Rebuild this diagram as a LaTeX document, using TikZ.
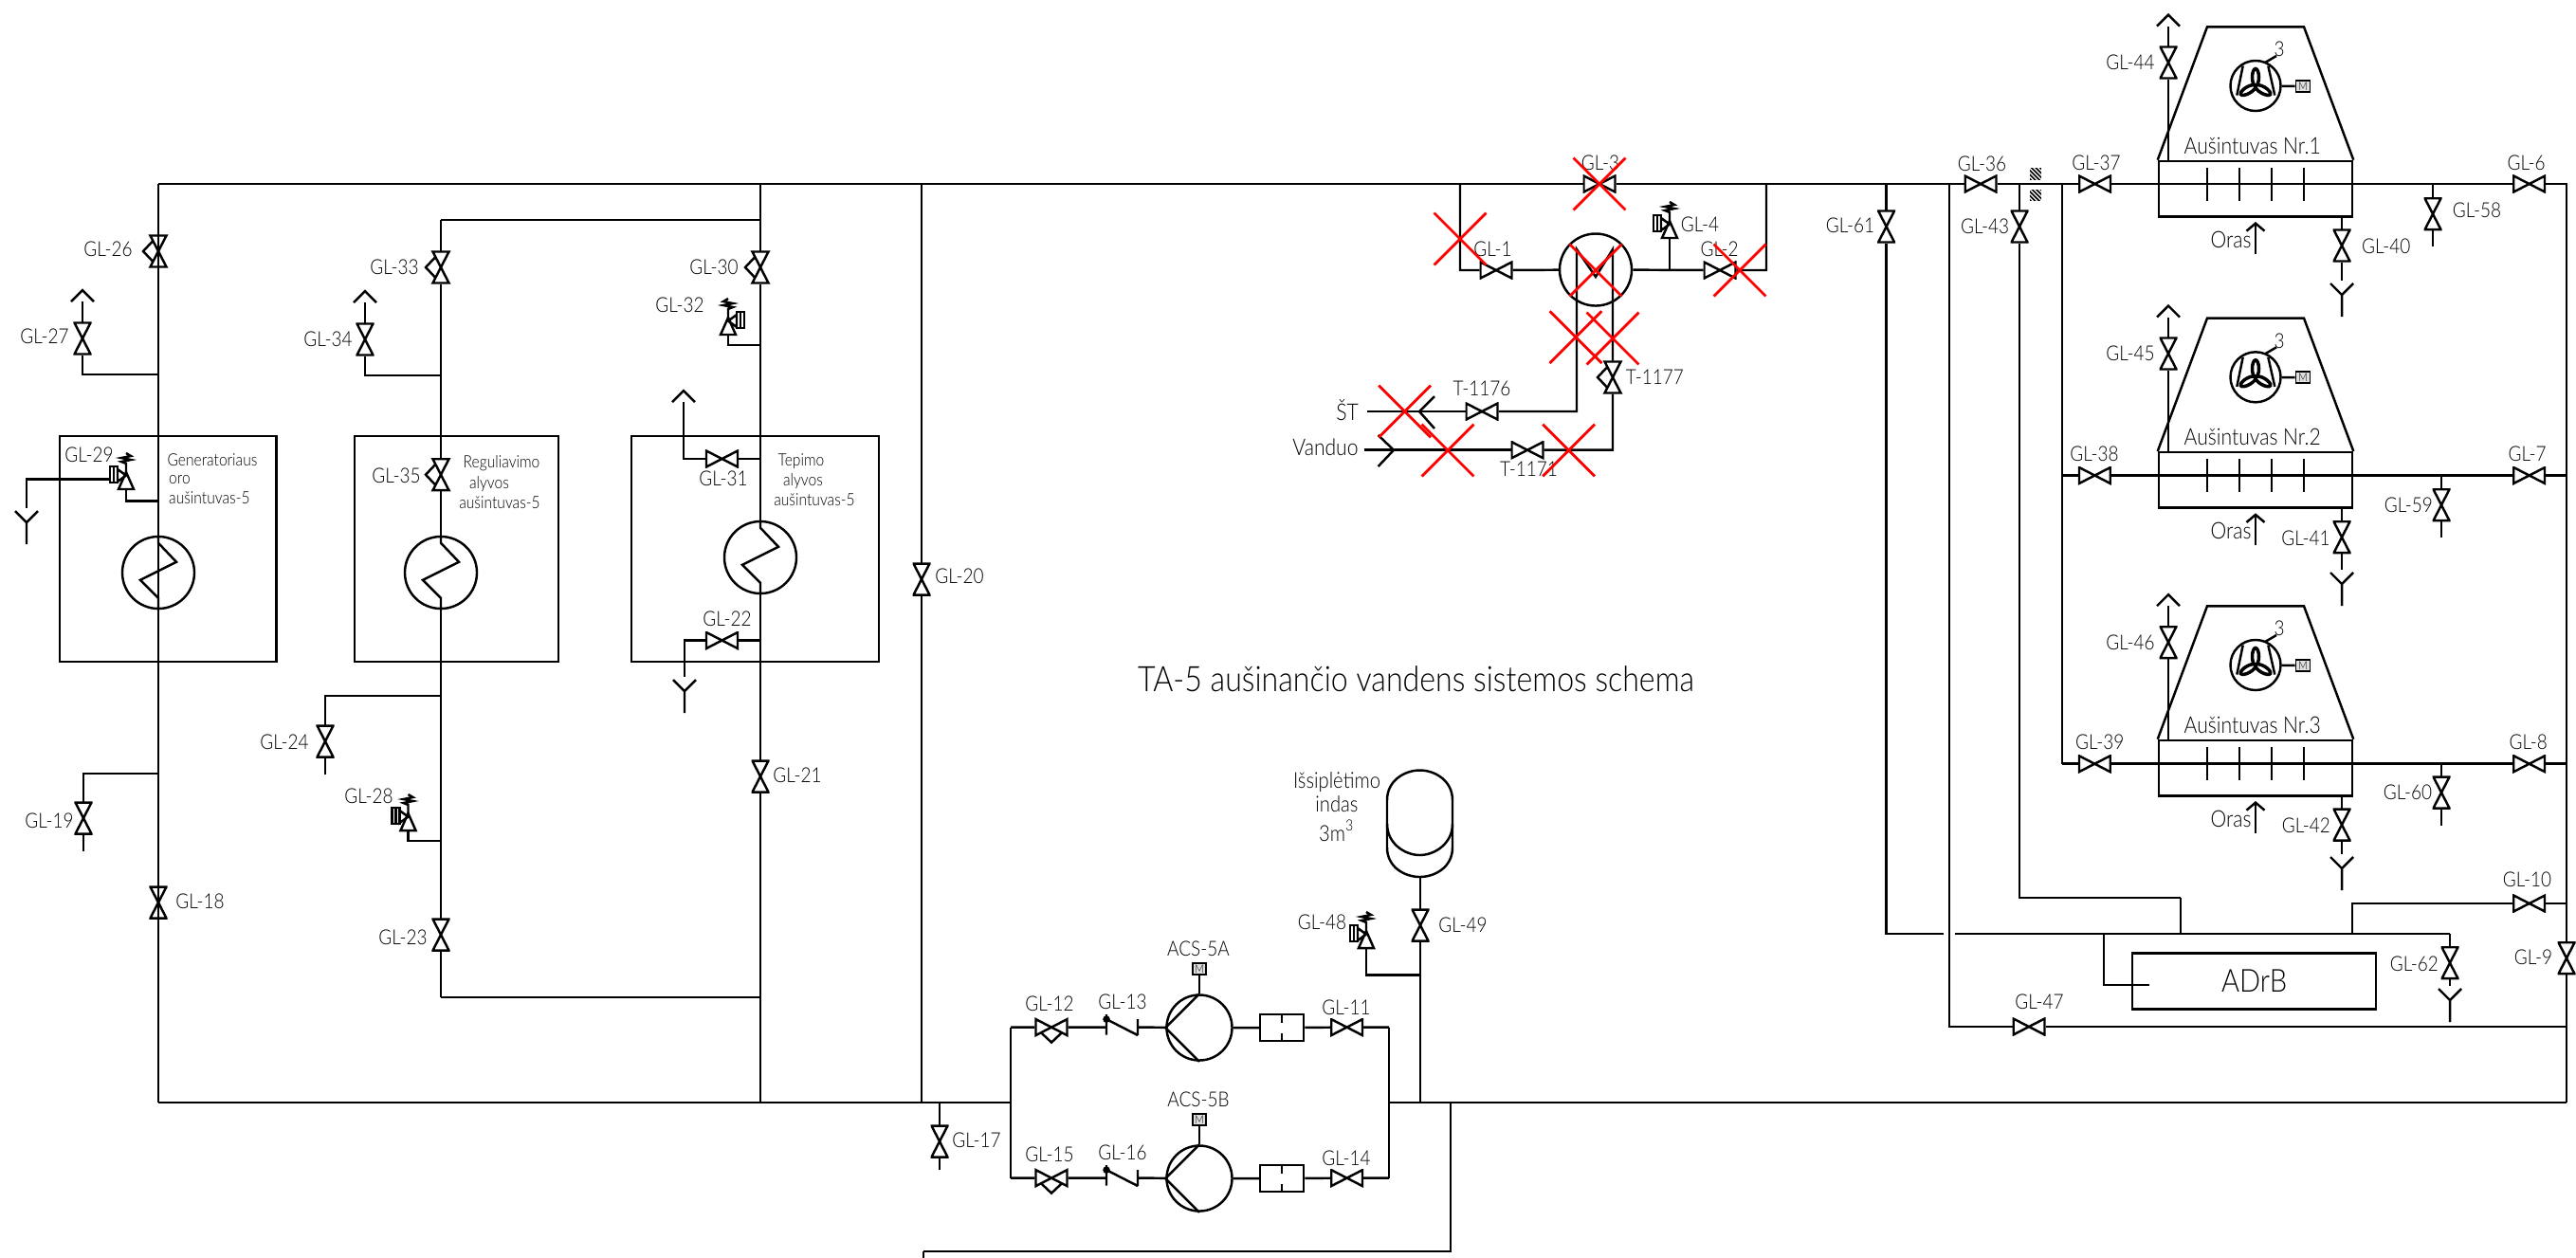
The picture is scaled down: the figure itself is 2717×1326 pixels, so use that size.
\documentclass[tikz,border=0pt]{standalone}
\usepackage{fontspec}
\setmainfont{Lato}[UprightFont=* Light, FakeStretch=.87]
\usetikzlibrary{arrows.meta, shapes.misc}
\tikzset{
  vvalve/.style={inner sep=0pt, outer sep=0pt, minimum width=.19cm, minimum height=.35cm,
    path picture={\draw (path picture bounding box.center) ++(-8.5,-16.5) -- ++(17,0) -- ++(-17,33) -- ++(17,0) -- cycle;}},
  vhand/.style={inner sep=0pt, outer sep=0pt, minimum width=.36cm, minimum height=.35cm,
    path picture={\draw (path picture bounding box.center) ++(-8.5,-16.5) -- ++(17,0) -- ++(-17,33) -- ++(17,0) -- cycle;
      \draw (path picture bounding box.center) ++(-5.6,-11) -- ++(-10.4,11) -- ++(10.4,11);}},
  hvalve/.style={inner sep=0pt, outer sep=0pt, minimum width=.35cm, minimum height=.19cm,
    path picture={\draw (path picture bounding box.center) ++(-16.5,-8.5) -- ++(0,17) -- ++(33,-17) -- ++(0,17) -- cycle;}},
  hhand/.style={inner sep=0pt, outer sep=0pt, minimum width=.35cm, minimum height=.36cm,
    path picture={\draw (path picture bounding box.center) ++(-16.5,-8.5) -- ++(0,17) -- ++(33,-17) -- ++(0,17) -- cycle;
      \draw (path picture bounding box.center) ++(-11,5.6) -- ++(11,10.4) -- ++(11,-10.4);}},
  tag/.style={inner sep=0pt, font=\fontsize{6.2}{6.2}\selectfont},
  widetag/.style={inner sep=0pt, font=\fontsize{6.9}{6.9}\selectfont},
  note/.style={inner sep=0pt, font=\fontsize{5.1}{5.1}\selectfont},
  unit/.style={draw, inner sep=0pt},
  hx/.style={draw, circle, inner sep=0pt, minimum size=.76cm},
  pump/.style={draw, circle, inner sep=0pt, minimum size=.69cm},
  motor/.style={draw, fill=gray!25, line width=.5pt, inner sep=0pt, minimum width=.15cm, minimum height=.12cm, font=\fontsize{3.4}{3.4}\selectfont},
  redx/.style={cross out, draw=red, line width=.8pt, inner sep=0pt, minimum size=.52cm},
  hatchbox/.style={fill=black, inner sep=0pt, minimum size=.125cm,
    path picture={\foreach \s in {-9,-4.5,0,4.5,9} \draw[white, line width=.35pt] (path picture bounding box.center) ++(\s-7,-7) -- ++(14,14);}},
  vent/.pic={\draw (-12,12) -- (0,0) -- (12,12);},
  drain/.pic={\draw (-12,0) -- (0,12) -- (12,0) (0,12) -- (0,35);},
  relief/.pic={
    \draw (-8,0) -- (8,0) -- (0,-18) -- cycle;
    \draw (0,-18) -- (0,-27) -- (-5,-29) -- (5,-31) -- (-5,-33) -- (5,-35) -- (0,-38);
    \draw (-9,-21) -- (0,-14.5) -- (-9,-8) -- cycle;
    \draw (-17,-24) rectangle (-9,-7) (-13,-24) -- (-13,-7);},
  check/.pic={
    \draw (0,-13.5) -- (0,8) (0,-8.5) -- (33,8.4) (33,-8.4) -- (33,8.4);
    \fill (0,-8.5) circle[radius=3.8];},
  blades/.pic={
    \draw (-13.3,-21) -- (-19.7,10) (13.3,-21) -- (20.3,10);
    \foreach \a in {0,120,240} \draw[line width=1pt, rotate=\a] (0,-9) ellipse[x radius=3.5, y radius=9];}
}
\begin{document}
\begin{tikzpicture}[x=0.01cm, y=-0.01cm, line width=.7pt]
  \useasboundingbox (0,0) rectangle (2717,1326);

  \foreach \n/\x/\y/\lx/\ly in {27/87/357/47/355, 34/385/358/346/358, 18/167/952/211/951, 19/88/863/52/866,
      24/343/782/300/783, 23/465/986/425/989, 21/802/819/841/818, 20/972/611/1012/608, 17/991/1204/1030/1203,
      49/1498/976/1543/975.5, 61/1989.6/239/1951.5/238, 43/2130/239/2093.6/239, 44/2287/66/2247/66,
      45/2287/373/2247/373, 46/2287/677.5/2247/677.5, 40/2470/259/2516.7/260, 41/2470/566.7/2432/567.7,
      42/2470/870/2432.4/870.7, 58/2566/225.7/2612.5/222, 59/2575/532.7/2540.4/533, 60/2575/836/2539.5/835.7,
      62/2584/1015.7/2546.4/1016.7, 9/2707/1010.7/2672/1010}
    {\node[vvalve] (gl\n) at (\x,\y) {};
     \node[tag] (t\n) at (\lx,\ly) {GL-\n};}
  \foreach \n/\x/\y/\lx/\ly in {26/167/265/114/263, 33/465/282/416/282, 30/802/282/753/282, 35/465/500.7/418/502}
    {\node[vhand] (gl\n) at (\x,\y) {};
     \node[tag] (t\n) at (\lx,\ly) {GL-\n};}
  \foreach \n/\x/\y/\lx/\ly in {31/761.5/484/763/505, 22/761.5/675.5/767/653, 3/1687/194/1688/172, 1/1578/285/1574.5/263,
      2/1814/285/1813.6/263, 36/2089/194/2090.5/172.7, 37/2209.5/194/2211/172, 38/2209.4/501.5/2209/479,
      39/2209.3/805.7/2214.7/782.7, 6/2667.7/194/2664.6/172, 7/2667.7/501.5/2665.6/479, 8/2667.7/805.7/2666.7/782.7,
      10/2667.7/953/2665.5/927.7, 47/2140/1083/2151/1057}
    {\node[hvalve] (gl\n) at (\x,\y) {};
     \node[tag] (t\n) at (\lx,\ly) {GL-\n};}
  \node[vhand] (t1177) at (1701,398) {};
  \node[tag] (l1177) at (1745.4,398) {T-1177};
  \node[hvalve] (t1176) at (1563,434) {};
  \node[tag] (l1176) at (1563,410) {T-1176};
  \node[hvalve] (t1171) at (1611,474.7) {};
  \node[tag] (l1171) at (1612.5,495) {T-1171};
  \foreach \n/\x/\y in {29/94/480, 32/717/322, 28/389/840, 48/1394.5/973, 4/1793/236.7}
    \node[tag] (t\n) at (\x,\y) {GL-\n};

  \foreach \n/\x/\y in {ta/167/194, tb/465/232, tc/802/194, td/802/232, te/972/194, tf/1540/194, tg/1863/194,
      th/1989.6/194, ti/2056/194, tj/2130/194, tk/2175/194, tr/2707/194,
      bl/167/1163, bc/802/1163, be/972/1163, bg/991/1163, bp/1066/1163, bq/1465/1163, bt/1498/1163, bu/1530/1163, br/2707/1163,
      j27/167/395, j34/465/396, j32/802/364, j29/167/528.5, j24/465/734, j19/167/816, j28/465/887, j23/465/1052, j21/802/1052,
      j31/802/484, j22/802/675.5, j4/1761/285, j48/1498/1028.5, j47/2707/1083, j10/2707/953,
      e17/991/1234, e19/88/898, e24/343/817, e58/2566/260, e59/2575/567, e60/2575/871,
      s58/2566/194, s59/2575/501.5, s60/2575/805.7, m2/2175/501.5, m3/2175/805.7, n7/2707/501.5, n8/2707/805.7,
      w40/2470/228.3, w41/2470/535.8, w42/2470/839.8, w44/2287/170, w45/2287/477.3, w46/2287/781,
      g1/2050/985, g2/2061.5/985, g3/2584/985, k1/2300/947, k2/2300/985, k3/2481/985, k4/2219/985, k5/2266.5/1039,
      b3/974/1320, b4/974/1330, c1/1663/263, c2/1701/263, c3/1683/292, st/1442/434, vz/1439/474.7,
      a29/116/505.5, tankb/1498/925}
    \coordinate (\n) at (\x,\y);

  \foreach \n/\x/\y in {v27/87/306, v34/385/307, v31/721/412, v44/2287/15.7, v45/2287/322.5, v46/2287/627.2}
    {\pic at (\x,\y) {vent};
     \coordinate (\n) at (\x,\y+12);}
  \foreach \n/\x/\y in {d29/28/539, d22/722/717, d40/2470/299, d41/2470/604, d42/2470/904, d62/2584/1043}
    {\pic at (\x,\y) {drain};
     \coordinate (\n) at (\x,\y-3);}
  \foreach \n/\x/\y/\s in {r29/133/516/1, r32/768/353/-1, r28/430.5/876/1, r48/1441/1000/1, r4/1761/251/1}
    {\pic[xscale=\s] at (\x,\y) {relief};
     \coordinate (\n) at (\x,\y);}

  \node[unit, minimum width=2.285cm, minimum height=2.38cm] (boxa) at (177.2,579) {};
  \node[unit, minimum width=2.15cm, minimum height=2.38cm] (boxb) at (481.5,579) {};
  \node[unit, minimum width=2.61cm, minimum height=2.38cm] (boxc) at (796.5,579) {};
  \node[note] (na1) at (224,485) {Generatoriaus};
  \node[note, right] (na2) at (177,506) {oro};
  \node[note, right] (na3) at (177,525) {aušintuvas-5};
  \node[note] (nb1) at (529,489) {Reguliavimo};
  \node[note] (nb2) at (516,511) {alyvos};
  \node[note] (nb3) at (527,530) {aušintuvas-5};
  \node[note] (nc1) at (845,487) {Tepimo};
  \node[note] (nc2) at (847,508) {alyvos};
  \node[note] (nc3) at (859,527) {aušintuvas-5};
  \node[hx] (hxa) at (167,604) {};
  \node[hx] (hxb) at (465,604) {};
  \node[hx] (hxc) at (802,588) {};
  \node[hx] (hxd) at (1683,284.5) {};
  \foreach \h in {hxa,hxb,hxc}
    \draw (\h.north) -- ++(0,8) -- ++(19,20) -- ++(-38,19) -- ++(19,19) -- (\h.south);

  \draw (bl) -- (ta) (ta) -- (gl3) (gl3) -- (gl36) (gl36) -- (gl37);
  \draw (ta) -- (gl26) (gl26) -- (hxa) (hxa) -- (gl18) (gl18) -- (bl);
  \draw (bl) -- (bp) (bq) -- (br);
  \draw (tc) -- (gl30) (gl30) -- (hxc) (hxc) -- (gl21) (gl21) -- (bc);
  \draw (td) -- (tb) (tb) -- (gl33) (gl33) -- (gl35) (gl35) -- (hxb) (hxb) -- (gl23) (gl23) -- (j23) (j23) -- (j21);
  \draw (te) -- (gl20) (gl20) -- (be);
  \draw (bg) -- (gl17) (gl17) -- (e17);
  \draw (gl27) |- (j27) (gl27) -- (v27);
  \draw (gl34) |- (j34) (gl34) -- (v34);
  \draw (gl19) |- (j19) (gl19) -- (e19);
  \draw (gl24) |- (j24) (gl24) -- (e24);
  \draw (gl31) -- (j31) (gl31) -| (v31);
  \draw (gl22) -- (j22) (gl22) -| (d22);
  \draw (r32) |- (j32) (r29) |- (j29) (r28) |- (j28);
  \draw (a29) -| (d29);

  \draw (tf) |- (gl1) (gl1) -- (hxd) (hxd) -- (gl2) (gl2) -| (tg);
  \draw (j4) -- (r4);
  \draw (t1176) -| (c1) -- (c3) -- (c2) -- (t1177) (t1177) |- (t1171);
  \draw (t1176) -- (st) (t1171) -- (vz);
  \draw (1513,418) -- (1497,434) -- (1513,452);
  \draw (1453.6,459) -- (1470,474.7) -- (1453.6,492);
  \node[widetag] (lst) at (1421,432.7) {ŠT};
  \node[widetag] (lvz) at (1398,472) {Vanduo};

  \draw (th) -- (gl61) (gl61) |- (g1) (g2) -- (g3) (g3) -- (gl62) (gl62) -- (d62);
  \draw (ti) |- (gl47) (gl47) -- (j47);
  \draw (tj) -- (gl43) (gl43) |- (k1) (k1) -- (k2);
  \draw (tk) -- (m3) (m2) -- (gl38) (m3) -- (gl39);
  \draw (gl37) -- (gl6) (gl38) -- (gl7) (gl39) -- (gl8);
  \draw (gl6) -| (gl9) (gl9) -- (br) (gl7) -- (n7) (gl8) -- (n8);
  \draw (s58) -- (gl58) (gl58) -- (e58) (s59) -- (gl59) (gl59) -- (e59) (s60) -- (gl60) (gl60) -- (e60);
  \draw (w40) -- (gl40) (gl40) -- (d40) (w41) -- (gl41) (gl41) -- (d41) (w42) -- (gl42) (gl42) -- (d42);
  \draw (w44) -- (gl44) (gl44) -- (v44) (w45) -- (gl45) (gl45) -- (v45) (w46) -- (gl46) (gl46) -- (v46);
  \draw (gl10) -- (j10) (gl10) -| (k3);
  \draw (k4) |- (k5);
  \node[unit, minimum width=2.57cm, minimum height=.59cm, font=\fontsize{9.5}{9.5}\selectfont] (adrb) at (2377.6,1034.8) {ADrB};
  \node[hatchbox] (ha) at (2147,183.6) {};
  \node[hatchbox] (hb) at (2147,205.8) {};

  \foreach \k/\dy in {1/0, 2/307.3, 3/611} {
    \begin{scope}[shift={(0,\dy)}]
      \node[unit, minimum width=2.04cm, minimum height=.583cm] (cl\k) at (2379,199.1) {};
      \draw (cl\k.north west) -- (2328,28.3) -- (2430,28.3) -- (cl\k.north east);
      \foreach \x in {2328,2362,2396,2430}
        \draw (\x,176.7) -- (\x,211.7);
      \node[draw, circle, inner sep=0pt, minimum size=.53cm] (fn\k) at (2379,90.5) {};
      \pic at (fn\k) {blades};
      \node[motor] (fm\k) at (2429,91) {M};
      \draw (fn\k) -- (fm\k);
      \node[tag] (fl\k) at (2404,52) {3};
      \draw (fn\k) ++(10,-24.5) -- ++(12,-7);
      \node[widetag] (cn\k) at (2375.7,154) {Aušintuvas Nr.\k};
      \node[widetag] (or\k) at (2353,253) {Oras};
      \coordinate (oa\k) at (2379,268);
      \coordinate (ob\k) at (2379,234);
      \draw[-{Straight Barb[length=.08cm, width=.19cm]}] (oa\k) -- (ob\k);
    \end{scope}
  }

  \foreach \pu/\dy/\na/\nb/\nc/\nd in {a/0/12/13/11/ACS-5A, b/159/15/16/14/ACS-5B} {
    \begin{scope}[shift={(0,\dy)}]
      \node[hhand] (gl\na) at (1109,1083.6) {};
      \node[tag] (t\na) at (1107,1059) {GL-\na};
      \coordinate (ca\pu) at (1167,1083.6);
      \coordinate (cb\pu) at (1200,1083.6);
      \pic at (ca\pu) {check};
      \node[tag] (t\nb) at (1184,1057) {GL-\nb};
      \node[pump] (pm\pu) at (1265,1084) {};
      \draw (pm\pu.north) -- (pm\pu.west) -- (pm\pu.south);
      \node[motor, minimum width=.145cm] (mt\pu) at (1265,1022) {M};
      \draw (mt\pu) -- (pm\pu);
      \node[tag] (ac\pu) at (1264,1001) {\nd};
      \node[unit, minimum width=.46cm, minimum height=.28cm] (fl\pu) at (1352,1084) {};
      \draw[dashed] (fl\pu.north) -- (fl\pu.south);
      \node[hvalve] (gl\nc) at (1420.6,1083.6) {};
      \node[tag] (t\nc) at (1420,1063) {GL-\nc};
      \coordinate (lf\pu) at (1066,1083.6);
      \coordinate (rg\pu) at (1465,1083.6);
      \draw (lf\pu) -- (gl\na) (gl\na) -- (ca\pu) (cb\pu) -- (pm\pu) (pm\pu) -- (fl\pu) (fl\pu) -- (gl\nc) (gl\nc) -- (rg\pu);
    \end{scope}
  }
  \draw (lfa) -- (lfb) (rga) -- (rgb);

  \draw (1463,844) .. controls (1463,823) and (1482,812.5) .. (1497.5,812.5) .. controls (1513,812.5) and (1532,823) .. (1532,844)
    -- (1532,894) .. controls (1532,915) and (1513,925) .. (1497.5,925) .. controls (1482,925) and (1463,915) .. (1463,894) -- cycle;
  \draw (1463,869) .. controls (1463,890) and (1482,902) .. (1497.5,902) .. controls (1513,902) and (1532,890) .. (1532,869);
  \node[tag, align=center, font=\fontsize{6.6}{5.8}\selectfont] (lt) at (1410,851) {Išsiplėtimo\\indas\\[1.5pt]3m\textsuperscript{3}};
  \draw (tankb) -- (gl49) (gl49) -- (bt) (r48) |- (j48);
  \draw (bu) |- (b3) (b3) -- (b4);

  \node[inner sep=0pt, font=\fontsize{10.5}{10.5}\selectfont] (title) at (1493.5,716) {TA-5 aušinančio vandens sistemos schema};

  \foreach \x/\y [count=\i] in {1540/252, 1687/194, 1683/285, 1835/285, 1662/355.7, 1701/357, 1481.6/434, 1527/475, 1654.6/475}
    \node[redx] (rx\i) at (\x,\y) {};
\end{tikzpicture}
\end{document}
